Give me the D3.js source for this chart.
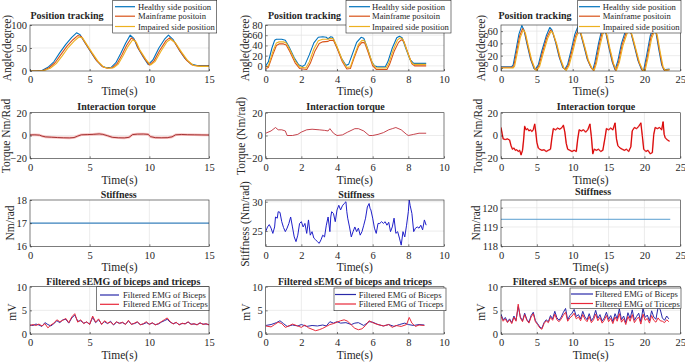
<!DOCTYPE html>
<html><head><meta charset="utf-8">
<script src="https://cdn.jsdelivr.net/npm/d3@7"></script>
<style>
body{margin:0;background:#fff}
svg{display:block}
svg text{font-family:"Liberation Serif","Times New Roman",serif !important;fill:#262626}
</style>
</head><body><svg id="c" width="685" height="362" font-family="Liberation Serif, serif"></svg>
<script>
// ---------- DATA ----------
const posLegend = ["Healthy side position","Mainframe positoin","Impaired side position"];
const emgLegend = ["Filtered EMG of Biceps","Filtered EMG of Triceps"];
const titles = ["Position tracking","Interaction torque","Stiffness","Filtered sEMG of biceps and triceps"];

const xTicks1 = [0,5,10,15];
const xTicks2 = [0,2,4,6,8,10];
const xTicks3 = [0,5,10,15,20,25];
const yTicksPos1 = [0,50,100];
const yTicksPos2 = [0,20,40,60,80];
const yTicksPos3 = [0,20,40,60];
const yTicksTorque = [-20,0,20];
const yTicksStiff1 = [16,17,18];
const yTicksStiff2 = [25,30];
const yTicksStiff3 = [118,119,120];
const yTicksEmg = [0,5,10];

// Position tracking, column 1  [time, angle]
const healthy1 = [[0,0],[0.5,0],[1,1],[1.5,8],[2,20],[2.5,40],[3,58],[3.5,73],[3.9,83],[4.2,79],[4.5,66],[5,45],[5.5,25],[6,11],[6.4,7],[6.8,8],[7.2,18],[7.6,38],[8,60],[8.4,78],[8.7,71],[9,52],[9.5,30],[9.9,14],[10.3,24],[10.8,50],[11.3,70],[11.6,78],[12,68],[12.5,46],[13,27],[13.5,15],[14,12],[15,12]];
const mainframe1 = [[0,0],[0.6,0],[1.1,1],[1.6,7],[2.1,18],[2.6,36],[3.1,54],[3.6,68],[4.0,77],[4.3,75],[4.6,62],[5.1,42],[5.6,22],[6.1,9],[6.5,6],[6.9,7],[7.3,16],[7.7,35],[8.1,56],[8.5,72],[8.8,66],[9.1,48],[9.6,27],[10.0,13],[10.4,22],[10.9,46],[11.4,66],[11.7,72],[12.1,63],[12.6,42],[13.1,24],[13.6,13],[14.1,11],[15,11]];
const impaired1 = [[0,0],[0.7,0],[1.2,1],[1.7,6],[2.2,16],[2.7,33],[3.2,51],[3.7,65],[4.1,74],[4.4,72],[4.7,60],[5.2,40],[5.7,21],[6.2,8],[6.6,6],[7.0,7],[7.4,15],[7.8,33],[8.2,53],[8.6,68],[8.9,63],[9.2,46],[9.7,26],[10.1,13],[10.5,21],[11.0,44],[11.5,64],[11.8,69],[12.2,61],[12.7,41],[13.2,23],[13.7,12],[14.2,10],[15,10]];

// Position tracking, column 2
const healthy2 = [[0,0],[0.15,8],[0.35,35],[0.5,50],[0.6,52],[0.9,52],[1.1,50],[1.3,38],[1.6,16],[1.85,2],[2.05,-1],[2.2,2],[2.45,22],[2.7,45],[2.95,56],[3.2,57],[3.4,56],[3.5,53],[3.65,57],[3.75,56],[3.95,40],[4.25,15],[4.5,1],[4.65,3],[4.85,22],[5.1,46],[5.35,56],[5.5,54],[5.7,35],[5.95,8],[6.1,0],[6.3,-2],[6.7,-2],[6.85,8],[7.1,35],[7.35,55],[7.5,58],[7.65,55],[7.85,35],[8.1,12],[8.3,5],[9,5]];
const mainframe2 = [[0,-5],[0.15,-3],[0.4,22],[0.6,40],[0.75,43],[1.0,43],[1.15,41],[1.35,28],[1.65,6],[1.9,-5],[2.3,-7],[2.5,5],[2.75,28],[3.0,44],[3.2,47],[3.5,48],[3.6,50],[3.8,50],[4.0,35],[4.3,8],[4.55,-6],[4.75,-5],[4.95,15],[5.2,38],[5.4,46],[5.55,45],[5.75,26],[6.0,0],[6.2,-7],[6.8,-7],[6.95,3],[7.2,28],[7.45,46],[7.6,51],[7.75,48],[7.95,28],[8.2,4],[8.35,0],[9,0]];
const impaired2 = [[0,-2],[0.15,0],[0.4,28],[0.6,45],[0.75,47],[1.0,47],[1.15,45],[1.35,32],[1.65,10],[1.9,-2],[2.25,-4],[2.45,8],[2.7,33],[2.95,49],[3.2,52],[3.5,52],[3.65,54],[3.8,53],[4.0,38],[4.3,11],[4.55,-3],[4.75,-2],[4.95,18],[5.2,42],[5.4,50],[5.55,49],[5.75,30],[6.0,4],[6.2,-4],[6.75,-4],[6.9,5],[7.15,31],[7.4,51],[7.55,55],[7.7,52],[7.9,32],[8.15,8],[8.3,3],[9,3]];

// Position tracking, column 3
const healthy3 = [[0,2],[1.5,2],[1.7,5],[2.1,30],[2.5,55],[2.9,69],[3.2,62],[3.6,40],[4.1,15],[4.6,-1],[4.8,-2],[5.2,5],[5.7,28],[6.3,52],[6.8,66],[7.1,62],[7.6,42],[8.1,18],[8.6,1],[8.9,-2],[9.3,6],[9.8,30],[10.3,55],[10.7,67],[11.0,60],[11.5,38],[12.0,15],[12.5,2],[12.8,-3],[13.1,10],[13.6,40],[14.0,60],[14.3,68],[14.6,58],[15.0,35],[15.5,10],[15.9,-3],[16.3,12],[16.8,40],[17.4,62],[17.8,67],[18.1,58],[18.6,35],[19.1,12],[19.6,-3],[19.9,-3],[20.3,20],[20.8,52],[21.3,68],[21.6,58],[22.0,30],[22.4,5],[22.7,-3],[23.5,-2]];
const mainframe3 = [[0,1],[1.6,1],[1.8,4],[2.2,28],[2.6,52],[3.0,64],[3.3,59],[3.7,38],[4.2,13],[4.7,-2],[4.9,-3],[5.3,4],[5.8,26],[6.4,50],[6.9,62],[7.2,58],[7.7,40],[8.2,16],[8.7,0],[9.0,-3],[9.4,5],[9.9,28],[10.4,52],[10.8,63],[11.1,57],[11.6,36],[12.1,13],[12.6,0],[12.9,-4],[13.2,8],[13.7,38],[14.1,57],[14.4,64],[14.7,55],[15.1,33],[15.6,8],[16.0,-4],[16.4,10],[16.9,38],[17.5,59],[17.9,63],[18.2,55],[18.7,33],[19.2,10],[19.7,-4],[20.0,-4],[20.4,18],[20.9,50],[21.4,64],[21.7,55],[22.1,28],[22.5,3],[22.8,-4],[23.5,-3]];
const impaired3 = [[0,0],[1.7,0],[1.9,3],[2.3,26],[2.7,50],[3.1,62],[3.4,57],[3.8,36],[4.3,12],[4.8,-3],[5.0,-4],[5.4,3],[5.9,24],[6.5,48],[7.0,60],[7.3,56],[7.8,38],[8.3,15],[8.8,-1],[9.1,-4],[9.5,4],[10.0,26],[10.5,50],[10.9,61],[11.2,55],[11.7,34],[12.2,12],[12.7,-1],[13.0,-4],[13.3,7],[13.8,36],[14.2,55],[14.5,62],[14.8,53],[15.2,31],[15.7,7],[16.1,-4],[16.5,9],[17.0,36],[17.6,57],[18.0,61],[18.3,53],[18.8,31],[19.3,9],[19.8,-4],[20.1,-4],[20.5,17],[21.0,48],[21.5,62],[21.8,53],[22.2,26],[22.6,2],[22.9,-4],[23.5,-3]];

// Interaction torque
const torque1 = [[0,0.5],[0.4,0.6],[0.8,0.3],[1.0,-0.5],[1.3,-1.2],[1.8,-1.5],[2.3,-1.8],[2.8,-2],[3.3,-2.1],[3.7,-1.8],[4.0,-0.5],[4.3,0.6],[4.8,0.8],[5.3,1.0],[5.8,1.4],[6.1,1.0],[6.5,-0.2],[6.9,-1.6],[7.4,-2],[7.9,-2.1],[8.3,-1.6],[8.6,0.8],[9.0,1.2],[9.5,1.3],[9.9,1.0],[10.1,-1.0],[10.5,-1.9],[11.0,-2],[11.5,-1.9],[11.9,-1.2],[12.2,0.6],[12.7,0.9],[13.2,0.7],[13.8,0.6],[14.4,0.5],[15,0.4]];
const torque2 = [[0,2],[0.3,4],[0.55,7],[0.7,5],[0.9,5],[1.1,4],[1.2,0],[1.5,0],[1.8,1],[2.0,3],[2.3,5],[2.6,5.5],[3.0,5],[3.3,4.5],[3.5,4],[3.6,6],[3.8,2],[4.0,0],[4.3,0.5],[4.6,3],[5.0,6],[5.2,6],[5.5,4],[5.8,0],[6.0,0],[6.3,1],[6.6,2.5],[6.9,5],[7.1,6],[7.3,7],[7.6,5],[7.9,1],[8.0,0],[8.3,1],[8.6,2],[9.0,2]];
const torque3 = [[0,7],[0.15,2],[0.3,-3],[0.6,-3.5],[0.9,-3],[1.2,-4],[1.4,-9],[1.6,-12],[1.8,-11],[2.0,-13],[2.2,-12.5],[2.4,-14],[2.6,-13],[2.8,-17],[3.0,-13],[3.15,-4],[3.3,8],[3.5,5],[3.7,6],[3.9,4],[4.1,5],[4.3,3.5],[4.5,5],[4.7,10],[4.85,3],[5.0,-6],[5.2,-11],[5.4,-12],[5.7,-13],[6.0,-12.5],[6.3,-14],[6.6,-13],[6.9,-12],[7.1,-2],[7.3,6],[7.6,5],[7.9,6.5],[8.2,5.5],[8.5,7],[8.7,9],[8.9,3],[9.1,-7],[9.3,-12],[9.6,-13],[9.9,-14],[10.2,-13],[10.5,-14],[10.7,-3],[10.9,5],[11.2,4],[11.5,5],[11.8,3],[12.1,5],[12.4,10],[12.6,-1],[12.8,-16],[13.0,-12],[13.3,-13],[13.6,-12],[13.9,-14],[14.2,-13],[14.5,-2],[14.7,6],[15.0,5],[15.3,6.5],[15.6,5],[15.9,11],[16.1,-3],[16.3,-9],[16.6,-11],[16.9,-12],[17.2,-13],[17.5,-12],[17.8,-14],[18.1,-10],[18.3,4],[18.6,7],[18.9,6],[19.2,8],[19.5,11],[19.7,0],[19.9,-12],[20.2,-14],[20.5,-13],[20.8,-16],[21.1,-15],[21.3,1],[21.5,7],[21.8,6],[22.1,7],[22.4,5],[22.6,12],[22.75,1],[22.9,-2],[23.2,-4],[23.5,-5]];

// Stiffness
const stiff1 = [[0,17],[15,17]];
const stiff2 = [[0,24.9],[0.1,25.7],[0.2,26.1],[0.3,25.5],[0.4,24.6],[0.5,25.7],[0.55,27.4],[0.65,27.2],[0.7,28.3],[0.8,28.2],[0.9,26.6],[1.0,25.6],[1.1,24.9],[1.2,25.5],[1.3,26.3],[1.4,27.4],[1.5,25.7],[1.6,24.0],[1.7,23.2],[1.8,24.3],[1.9,26.3],[2.0,26.6],[2.1,25.7],[2.2,26.3],[2.3,24.6],[2.4,26.9],[2.5,24.3],[2.6,24.9],[2.7,23.8],[2.8,23.5],[2.9,23.2],[3.0,22.9],[3.1,23.5],[3.2,24.3],[3.3,24.0],[3.4,26.0],[3.5,27.4],[3.6,24.9],[3.65,27.4],[3.7,28.3],[3.8,28.0],[3.9,26.6],[4.0,28.6],[4.1,29.4],[4.2,28.6],[4.3,29.3],[4.4,29.7],[4.5,30.0],[4.55,28.3],[4.6,27.2],[4.7,25.7],[4.8,24.0],[4.9,24.9],[5.0,25.7],[5.1,24.9],[5.2,25.5],[5.3,24.3],[5.4,24.9],[5.5,26.0],[5.6,27.2],[5.7,29.1],[5.8,29.7],[5.85,28.9],[5.9,28.6],[6.0,27.2],[6.1,25.5],[6.2,24.6],[6.3,26.3],[6.4,26.3],[6.5,26.6],[6.6,26.3],[6.7,26.6],[6.8,26.0],[6.9,26.5],[7.0,24.9],[7.1,25.7],[7.2,27.2],[7.3,24.6],[7.4,24.9],[7.5,23.8],[7.6,22.6],[7.7,24.9],[7.8,24.0],[7.9,26.0],[8.0,28.3],[8.05,30.3],[8.1,29.4],[8.2,28.0],[8.3,24.9],[8.4,25.5],[8.5,25.7],[8.6,25.5],[8.7,26.0],[8.8,25.2],[8.9,26.9],[9.0,26.0]];
const stiff3 = [[0,119.4],[23.6,119.4]];

// sEMG column 1 (sampled every 0.25 s)
const emgTime1 = [0,0.25,0.5,0.75,1,1.25,1.5,1.75,2,2.25,2.5,2.75,3,3.25,3.5,3.75,4,4.25,4.5,4.75,5,5.25,5.5,5.75,6,6.25,6.5,6.75,7,7.25,7.5,7.75,8,8.25,8.5,8.75,9,9.25,9.5,9.75,10,10.25,10.5,10.75,11,11.25,11.5,11.75,12,12.25,12.5,12.75,13,13.25,13.5,13.75,14,14.25,14.5,14.75,15];
const biceps1 = [1.9,1.8,2.1,1.9,1.6,2.4,2.0,1.7,2.2,2.8,2.4,3.0,3.1,2.3,3.4,4.0,2.7,2.8,2.3,2.5,2.1,3.5,2.4,3.0,2.1,2.6,2.2,2.7,1.9,2.5,2.3,2.4,2.1,2.7,2.1,2.2,2.5,2.0,2.1,2.4,2.1,2.3,2.0,2.1,2.5,2.8,3.1,2.5,2.2,2.4,2.0,2.2,2.2,2.5,2.1,2.1,2.0,2.3,2.1,2.1,2.0];
const triceps1 = [1.8,2.0,1.8,2.1,1.7,2.2,1.3,1.9,2.3,3.0,2.6,2.9,3.3,2.4,3.6,4.3,2.5,3.0,2.2,2.6,2.0,3.8,2.5,3.2,2.0,2.8,2.3,2.5,2.0,2.6,2.2,2.5,2.0,2.9,2.0,2.3,2.6,1.9,2.2,2.6,2.0,2.4,1.9,2.2,2.6,3.0,3.4,2.6,2.1,2.5,1.9,2.3,2.1,2.6,2.0,2.2,1.9,2.4,2.0,2.2,1.9];

// sEMG column 2  [time, mV]
const biceps2 = [[0,1.8],[0.3,2.0],[0.6,2.4],[0.8,2.8],[1.0,2.2],[1.2,1.6],[1.5,1.9],[1.8,1.7],[2.0,2.0],[2.3,1.6],[2.6,1.8],[2.9,1.7],[3.2,1.9],[3.4,1.7],[3.6,2.6],[3.8,2.3],[4.0,2.6],[4.2,2.3],[4.5,2.4],[4.8,2.0],[5.0,2.3],[5.2,2.4],[5.5,1.8],[5.8,2.6],[6.0,2.5],[6.3,2.0],[6.6,1.7],[6.9,2.0],[7.2,1.6],[7.5,2.0],[7.8,2.3],[8.0,2.0],[8.3,1.8],[8.6,2.0],[8.9,1.9]];
const triceps2 = [[0,1.7],[0.3,1.5],[0.5,2.0],[0.7,2.5],[0.9,2.2],[1.1,1.4],[1.3,1.7],[1.5,2.1],[1.8,1.7],[2.0,1.4],[2.2,1.9],[2.4,1.3],[2.6,1.0],[2.8,0.7],[3.0,0.9],[3.2,1.2],[3.4,1.6],[3.6,2.0],[3.8,2.2],[4.0,2.5],[4.2,2.8],[4.4,3.0],[4.6,2.7],[4.8,1.9],[5.0,1.2],[5.2,0.9],[5.4,1.1],[5.6,1.8],[5.8,2.8],[6.0,2.4],[6.2,2.1],[6.4,1.9],[6.6,1.7],[6.9,2.0],[7.1,1.4],[7.3,1.8],[7.6,1.6],[7.9,2.0],[8.05,3.5],[8.2,2.3],[8.4,1.6],[8.6,1.9],[8.9,1.8]];

// sEMG column 3 (sampled every 0.3 s)
const emgTime3 = [0,0.3,0.6,0.9,1.2,1.5,1.8,2.1,2.4,2.7,3,3.3,3.6,3.9,4.2,4.5,4.8,5.1,5.4,5.7,6,6.3,6.6,6.9,7.2,7.5,7.8,8.1,8.4,8.7,9,9.3,9.6,9.9,10.2,10.5,10.8,11.1,11.4,11.7,12,12.3,12.6,12.9,13.2,13.5,13.8,14.1,14.4,14.7,15,15.3,15.6,15.9,16.2,16.5,16.8,17.1,17.4,17.7,18,18.3,18.6,18.9,19.2,19.5,19.8,20.1,20.4,20.7,21,21.3,21.6,21.9,22.2,22.5,22.8,23.1,23.4];
const biceps3 = [4.2,3.0,3.5,2.6,3.2,2.4,3.8,2.9,5.8,3.6,2.8,4.4,3.1,2.5,3.9,4.6,2.8,2.2,1.5,1.2,2.4,3.0,2.6,3.9,3.2,4.8,3.4,2.9,3.6,4.6,5.4,3.0,3.9,4.4,5.2,3.7,4.1,3.2,4.8,3.6,3.0,4.3,2.8,3.5,5.0,3.3,4.1,2.7,3.4,4.6,3.1,3.9,2.6,4.3,3.2,5.3,3.0,3.8,2.4,4.5,3.3,5.1,2.9,3.7,4.4,2.6,5.4,3.5,4.0,2.8,4.9,3.6,3.1,5.6,5.2,3.4,2.9,3.8,3.2];
const triceps3 = [3.8,2.7,3.2,2.4,3.0,2.2,3.5,2.7,6.3,3.4,2.6,4.1,2.9,2.3,3.6,4.3,2.6,2.0,1.3,1.0,2.2,2.8,2.4,3.5,2.9,4.2,3.0,2.6,3.2,4.0,4.6,2.7,3.4,3.8,4.4,3.2,3.6,2.8,4.1,3.1,2.6,3.7,2.4,3.0,4.2,2.8,3.5,2.3,2.9,3.9,2.6,3.3,2.2,3.6,2.7,4.3,2.5,3.2,2.0,3.7,2.7,4.1,2.4,3.1,3.6,2.1,4.2,2.9,3.3,2.3,3.9,2.9,2.5,3.4,2.8,2.7,2.4,3.0,2.6];

// ---------- DRAWING ----------
const FONT = "Liberation Serif, Times New Roman, serif";
const C = {blue:"#0072BD", orange:"#D95319", yellow:"#EDB120", bic:"#2a2aa8", tri:"#e8283a"};
const svg = d3.select("#c");
let clipId = 0;
const zip = (t, v) => t.map((d,i)=>[d, v[i]]);

function panel(o){
  const x = d3.scaleLinear().domain(o.xd).range([o.l,o.r]);
  const y = d3.scaleLinear().domain(o.yd).range([o.b,o.t]);
  const g = svg.append("g").attr("font-family",FONT);
  g.append("g").selectAll("line").data(o.xt.filter(v=>v>o.xd[0]&&v<o.xd[1])).join("line")
    .attr("x1",d=>x(d)).attr("x2",d=>x(d)).attr("y1",o.t).attr("y2",o.b)
    .attr("stroke","#e4e4e4").attr("stroke-width",0.7);
  g.append("g").selectAll("line").data(o.yt.filter(v=>v>o.yd[0]&&v<o.yd[1])).join("line")
    .attr("y1",d=>y(d)).attr("y2",d=>y(d)).attr("x1",o.l).attr("x2",o.r)
    .attr("stroke","#e4e4e4").attr("stroke-width",0.7);
  const id = "cl"+(clipId++);
  svg.append("clipPath").attr("id",id).append("rect")
    .attr("x",o.l).attr("y",o.t).attr("width",o.r-o.l).attr("height",o.b-o.t);
  const lg = g.append("g").attr("clip-path",`url(#${id})`);
  const line = d3.line().x(d=>x(d[0])).y(d=>y(d[1]));
  o.series.forEach(s=>{
    if(s.halo) lg.append("path").attr("d",line(s.data)).attr("fill","none")
      .attr("stroke",s.halo).attr("stroke-width",s.haloW||3).attr("stroke-linejoin","round").attr("opacity",0.9);
    lg.append("path").attr("d",line(s.data)).attr("fill","none")
      .attr("stroke",s.color).attr("stroke-width",s.w||1).attr("stroke-linejoin","round");
  });
  const xa = g.append("g").attr("transform",`translate(0,${o.b})`)
    .call(d3.axisBottom(x).tickValues(o.xt).tickSize(-2).tickPadding(5).tickFormat(d3.format("d")));
  const ya = g.append("g").attr("transform",`translate(${o.l},0)`)
    .call(d3.axisLeft(y).tickValues(o.yt).tickSize(-2).tickPadding(3).tickFormat(d3.format("d")));
  [xa,ya].forEach(a=>{
    a.attr("font-family",FONT).attr("font-size",10.5);
    a.select(".domain").remove();
    a.selectAll("line").attr("stroke","#262626").attr("stroke-width",0.6);
    a.selectAll("text").attr("fill","#262626");
  });
  g.append("rect").attr("x",o.l).attr("y",o.t).attr("width",o.r-o.l).attr("height",o.b-o.t)
    .attr("fill","none").attr("stroke","#262626").attr("stroke-width",0.6);
  g.append("text").attr("x",o.tx).attr("y",o.ty).attr("text-anchor","middle")
    .attr("dominant-baseline","central").attr("font-size",10).attr("font-weight","bold")
    .attr("fill","#000").text(o.title);
  g.append("text").attr("x",(o.l+o.r)/2).attr("y",o.xly).attr("text-anchor","middle")
    .attr("dominant-baseline","central").attr("font-size",11.5).text("Time(s)");
  g.append("text").attr("transform",`translate(${o.ylx},${o.yly}) rotate(-90)`)
    .attr("text-anchor","middle").attr("dominant-baseline","central")
    .attr("font-size",11.5).text(o.ylabel);
  if(o.legend){
    const L = o.legend;
    g.append("rect").attr("x",L.x0).attr("y",L.y0).attr("width",L.x1-L.x0).attr("height",L.y1-L.y0)
      .attr("fill","#fff").attr("stroke","#262626").attr("stroke-width",0.6);
    L.items.forEach((it,i)=>{
      g.append("line").attr("x1",L.lx0).attr("x2",L.lx1).attr("y1",L.ys[i]).attr("y2",L.ys[i])
        .attr("stroke",it.color).attr("stroke-width",1.2);
      g.append("text").attr("x",L.tx).attr("y",L.ys[i]).attr("dominant-baseline","central")
        .attr("font-size",8.6).text(it.label);
    });
  }
}

const cols = [{l:30,r:209,xd:[0,15],xt:xTicks1},{l:265.7,r:444,xd:[0,10],xt:xTicks2},{l:501,r:680.3,xd:[0,25],xt:xTicks3}];
const ylx = [[7,6,10,12],[244.7,241.3,244.7,246],[481,477.7,476,481]];

const posData = [[healthy1,mainframe1,impaired1],[healthy2,mainframe2,impaired2],[healthy3,mainframe3,impaired3]];
const posYd = [[0,100],[-10,80],[-5,70]];
const posYt = [yTicksPos1,yTicksPos2,yTicksPos3];
const posTx = [67,304.5,535];
const posLeg = [{x0:112.7,x1:216.7,lx0:115,lx1:135,tx:138},{x0:346,x1:451,lx0:349,lx1:370,tx:372},{x0:577.7,x1:681,lx0:579,lx1:600,tx:602.7}];
cols.forEach((c,i)=>{
  panel({...c, t:25, b:71, yd:posYd[i], yt:posYt[i],
    series:[{data:posData[i][0],color:C.blue,w:1.1},{data:posData[i][1],color:C.orange,w:1.1},{data:posData[i][2],color:C.yellow,w:1.1}],
    title:titles[0], tx:posTx[i], ty:15, xly:91, ylabel:"Angle(degree)", ylx:ylx[i][0], yly:48,
    legend:{...posLeg[i], y0:0.5, y1:33, ys:[6.7,16.2,26.5],
      items:[{label:posLegend[0],color:C.blue},{label:posLegend[1],color:C.orange},{label:posLegend[2],color:C.yellow}]}
  });
});

const torqueSeries = [
  [{data:torque1,color:"#8e1212",w:0.8,halo:"#f8b8b8",haloW:2.6}],
  [{data:torque2,color:"#c0303a",w:0.9}],
  [{data:torque3,color:"#d80000",w:1.0,halo:"#f08080",haloW:1.6}]
];
const torqueLabels = ["Torque Nm/Rad","Torque (Nm/rad)","Torque Nm/Rad"];
const torqueTx = [116.5,345.5,596];
cols.forEach((c,i)=>{
  panel({...c, t:112.7, b:158.3, yd:[-20,20], yt:yTicksTorque, series:torqueSeries[i],
    title:titles[1], tx:torqueTx[i], ty:106.5, xly:180, ylabel:torqueLabels[i], ylx:ylx[i][1], yly:136});
});

const stiffSeries = [
  [{data:stiff1,color:"#3d85c0",w:1.1}],
  [{data:stiff2,color:"#2020c8",w:1}],
  [{data:stiff3,color:"#5a9fd0",w:1}]
];
const stiffYd = [[16,18],[22.4,30.3],[118,120.4]];
const stiffYt = [yTicksStiff1,yTicksStiff2,yTicksStiff3];
const stiffLabels = ["Nm/rad","Stiffness (Nm/rad)","Nm/rad"];
const stiffTx = [118.7,356.3,593];
const stiffYly = [223,224,223];
cols.forEach((c,i)=>{
  panel({...c, t:200, b:246.3, yd:stiffYd[i], yt:stiffYt[i], series:stiffSeries[i],
    title:titles[2], tx:stiffTx[i], ty:i==2?191.7:194, xly:266.7, ylabel:stiffLabels[i], ylx:ylx[i][2], yly:stiffYly[i]});
});

const emgData = [[zip(emgTime1,biceps1),zip(emgTime1,triceps1)],[biceps2,triceps2],[zip(emgTime3,biceps3),zip(emgTime3,triceps3)]];
const emgTx = [123.3,355,589.7];
const emgLeg = [
  {x0:96.7,x1:209,y0:286.7,y1:310.7,ys:[295,304.3],lx0:100,lx1:119,tx:123},
  {x0:334,x1:446,y0:288,y1:310.7,ys:[294.5,304],lx0:335,lx1:356,tx:358.7},
  {x0:570,x1:681,y0:288,y1:308.5,ys:[294,303.5],lx0:571,lx1:593,tx:595}
];
cols.forEach((c,i)=>{
  panel({...c, t:286.7, b:334, yd:[0,10], yt:yTicksEmg,
    series:[{data:emgData[i][0],color:C.bic,w:1},{data:emgData[i][1],color:C.tri,w:1}],
    title:titles[3], tx:emgTx[i], ty:281.5, xly:355, ylabel:"mV", ylx:ylx[i][3], yly:312,
    legend:{...emgLeg[i], items:[{label:emgLegend[0],color:C.bic},{label:emgLegend[1],color:C.tri}]}
  });
});
</script>
</body></html>
